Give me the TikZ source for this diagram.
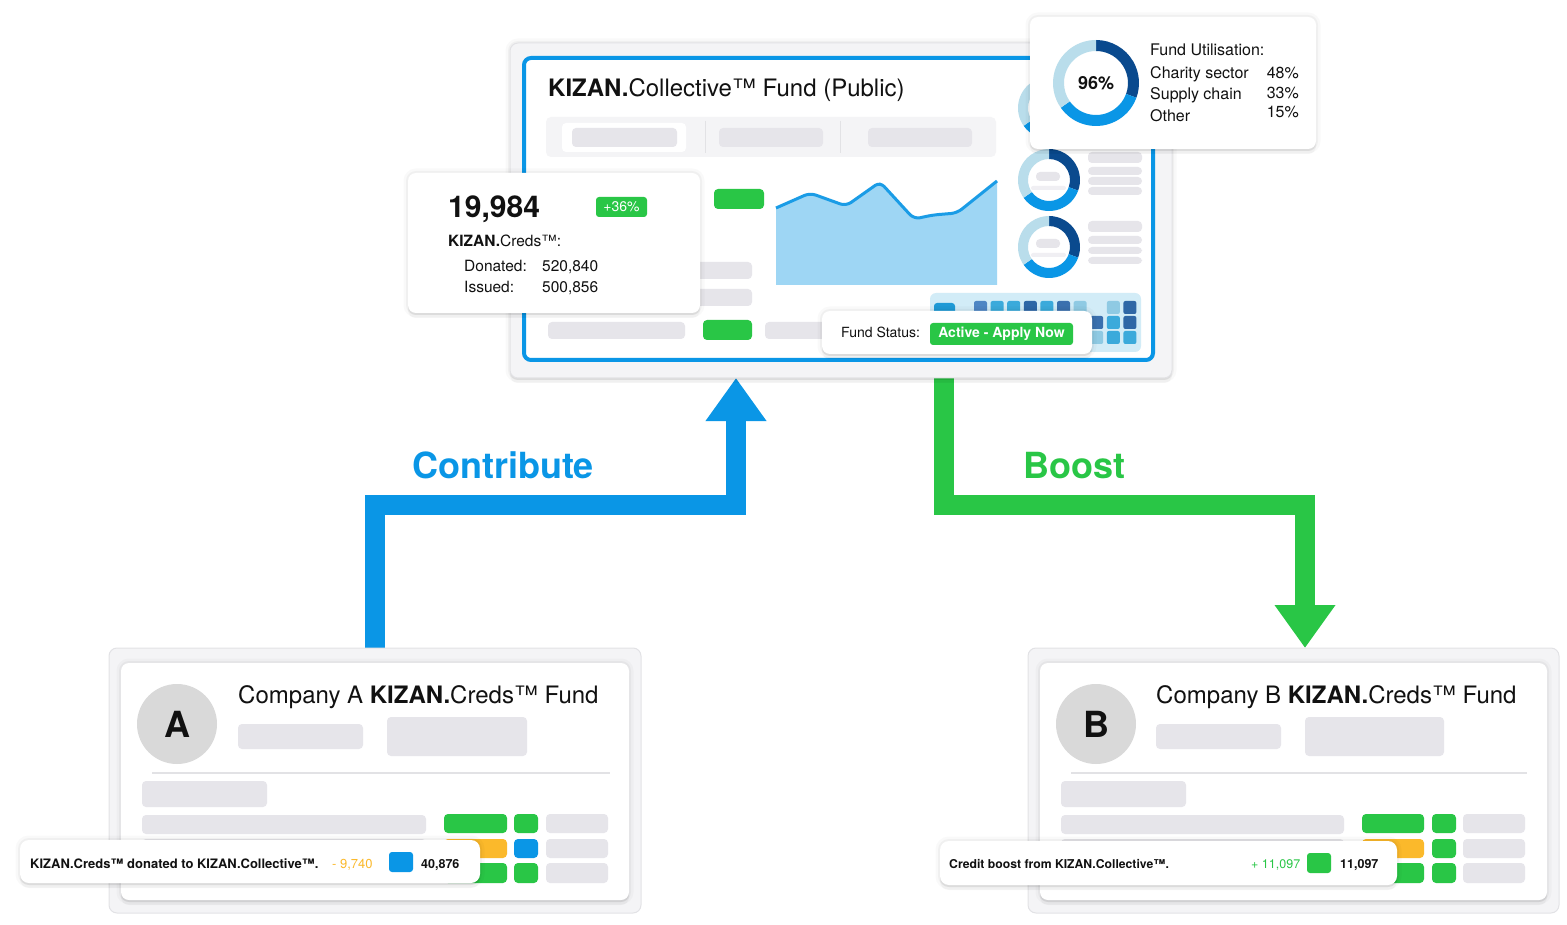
\documentclass[tikz,border=0pt]{standalone}
\usepackage{fontspec}
\setmainfont{TeX Gyre Heros}
\usetikzlibrary{arrows.meta,positioning,calc,backgrounds}
\definecolor{kblue}{HTML}{0A96E6}
\definecolor{kgreen}{HTML}{29C646}
\definecolor{kdark}{HTML}{0A4A8E}
\definecolor{klight}{HTML}{B9DDEB}
\definecolor{korange}{HTML}{FBB92B}
\definecolor{pillgrey}{HTML}{E6E5EA}
\definecolor{panelgrey}{HTML}{F4F4F6}
\definecolor{edgegrey}{HTML}{E2E2E5}
\definecolor{avatargrey}{HTML}{D9D9D9}
\definecolor{chartfill}{HTML}{9ED6F4}
\definecolor{chartline}{HTML}{1A9CE6}
\definecolor{heatbg}{HTML}{D2ECF7}
\definecolor{heatA}{HTML}{4E86C4}
\definecolor{heatB}{HTML}{3BAADB}
\definecolor{heatC}{HTML}{2E67A6}
\definecolor{heatD}{HTML}{8FCAE3}
\definecolor{heatE}{HTML}{3A70AE}
\definecolor{heatsmall}{HTML}{1F9AD6}
\definecolor{ink}{HTML}{111111}

\newcommand{\fsz}[1]{\fontsize{#1}{#1}\selectfont}
\newcommand{\donutseg}[6]{%
  \fill[#6] ($(#1)+(#4:#2)$) arc[start angle=#4, end angle=#5, radius=#2]
    -- ($(#1)+(#5:#3)$) arc[start angle=#5, end angle=#4, radius=#3] -- cycle;}
\newcommand{\donut}[3]{%
  \donutseg{#1}{#2}{#3}{-90}{20}{kdark}%
  \donutseg{#1}{#2}{#3}{20}{145}{kblue}%
  \donutseg{#1}{#2}{#3}{145}{270}{klight}}

\tikzset{
  card/.style={rectangle, rounded corners=8pt, inner sep=0pt, outer sep=0pt, fill=white},
  lift/.style={preaction={draw=black, draw opacity=0.025, line width=9pt},
               preaction={draw=black, draw opacity=0.035, line width=4pt},
               preaction={fill=black, opacity=0.035, transform canvas={yshift=-5pt}},
               preaction={fill=black, opacity=0.05, transform canvas={yshift=-2pt}}},
  tray/.style={card, fill=panelgrey, draw=edgegrey, line width=1pt},
  pill/.style={fill=pillgrey, rounded corners=4pt},
  txt/.style={anchor=base west, inner sep=0pt, text=ink},
  badge/.style={rectangle, rounded corners=3pt, fill=kgreen, text=white, inner sep=0pt},
  flow/.style={line width=20pt, -{Triangle[width=58pt,length=43pt]}},
}

\begin{document}
\begin{tikzpicture}[x=1pt, y=-1pt]
\useasboundingbox (0,0) rectangle (1567,925);

% ---- main fund panel
\node[tray, lift, minimum width=662pt, minimum height=335pt] (panel) at (841,210.5) {};
\node[card, draw=kblue, line width=4pt, rounded corners=7pt, minimum width=629pt, minimum height=302pt] (panelin) at (838.5,209) {};
\node[txt, font=\fsz{24}] (ptitle) at (548,97) {\textbf{KIZAN.}Collective™ Fund (Public)};

% tab bar
\fill[panelgrey, rounded corners=5pt] (546,117) rectangle (996,157);
\fill[white, rounded corners=4pt] (562,123) rectangle (686,152);
\path[pill] (572,128) rectangle (677,147);
\path[pill] (719,128) rectangle (823,147);
\path[pill] (868,128) rectangle (972,147);
\draw[edgegrey] (705,121) -- (705,153);
\draw[edgegrey] (840,121) -- (840,153);

% rows left of the chart
\fill[kgreen, rounded corners=4pt] (714,189) rectangle (764,209);
\path[pill] (620,262) rectangle (752,279);
\path[pill] (620,289) rectangle (752,306);
\path[pill] (548,322) rectangle (685,339);
\fill[kgreen, rounded corners=4pt] (703,320) rectangle (752,340);
\path[pill] (765,322) rectangle (850,339);

% area chart
\fill[chartfill] (776,285) -- (776,208) -- (810,193) -- (846,206) -- (880,182) -- (914,219)
  -- (933,215) -- (957,213) -- (997,181) -- (997,285) -- cycle;
\draw[chartline, line width=3pt, rounded corners=6pt, line join=round]
  (776,208) -- (810,193) -- (846,206) -- (880,182) -- (914,219) -- (933,215) -- (957,213) -- (997,181);

% donuts with their lines
\coordinate (ring1) at (1049,108);
\coordinate (ring2) at (1049,180);
\coordinate (ring3) at (1049,247);
\donut{ring1}{31}{21}
\donut{ring2}{31}{21}
\donut{ring3}{31}{21}
\path[pill] (1036,172) rectangle (1060,181);
\fill[pillgrey!60, rounded corners=2pt] (1031,186) rectangle (1066,190);
\path[pill] (1036,239) rectangle (1060,248);
\fill[pillgrey!60, rounded corners=2pt] (1031,253) rectangle (1066,257);
\path[pill] (1088,152) rectangle (1142,163);
\path[pill] (1088,167) rectangle (1142,175);
\path[pill] (1088,177) rectangle (1142,185);
\path[pill] (1088,187) rectangle (1142,195);
\path[pill] (1088,221) rectangle (1142,232);
\path[pill] (1088,236) rectangle (1142,244);
\path[pill] (1088,247) rectangle (1142,254);
\path[pill] (1088,257) rectangle (1142,264);

% heat map
\fill[heatbg, rounded corners=6pt] (930,293) rectangle (1141,352);
\fill[heatsmall, rounded corners=3pt] (934,303) rectangle (955,316);
\foreach \c [count=\i from 0] in {heatA,heatB,heatB,heatC,heatB,heatE,heatD,none,heatD,heatC}
  \fill[fill=\c, rounded corners=2pt] ({974+16.6*\i},301) rectangle ++(13,13);
\foreach \c [count=\i from 0] in {heatB,heatA,heatC,heatB,heatE,heatB,heatD,heatE,heatB,heatC}
  \fill[fill=\c, rounded corners=2pt] ({974+16.6*\i},316) rectangle ++(13,13);
\foreach \c [count=\i from 0] in {heatD,heatB,heatA,heatB,heatC,heatD,heatB,heatD,heatB,heatB}
  \fill[fill=\c, rounded corners=2pt] ({974+16.6*\i},331) rectangle ++(13,13);

% status popup
\node[card, lift, minimum width=270pt, minimum height=43pt] (status) at (957,332.5) {};
\node[txt, font=\fsz{14}] (statuslbl) at (841,338) {Fund Status:};
\node[badge, font=\fsz{14}\bfseries, minimum width=143pt, minimum height=22pt] (apply) at (1001.5,334) {Active - Apply Now};

% stats popup
\node[card, lift, minimum width=292pt, minimum height=140pt] (stats) at (554,243) {};
\node[txt, font=\fsz{30}\bfseries] (total) at (448,218) {19,984};
\node[badge, font=\fsz{14}, minimum width=51pt, minimum height=20pt] (growth) at (621.5,207) {+36\%};
\node[txt, font=\fsz{15.5}] (credlbl) at (448,247) {\textbf{KIZAN.}Creds™:};
\node[txt, font=\fsz{15.5}] (donlbl) at (464,272) {Donated:};
\node[txt, font=\fsz{15.5}] (donval) at (542,272) {520,840};
\node[txt, font=\fsz{15.5}] (isslbl) at (464,293) {Issued:};
\node[txt, font=\fsz{15.5}] (issval) at (542,293) {500,856};

% utilisation popup
\node[card, lift, minimum width=286pt, minimum height=132pt] (util) at (1173,83) {};
\coordinate (ring0) at (1096,83);
\donut{ring0}{43}{32}
\node[font=\fsz{18}\bfseries, text=ink, inner sep=0pt] (usage) at (ring0) {96\%};
\node[txt, font=\fsz{16}] (utitle) at (1150,56) {Fund Utilisation:};
\node[txt, font=\fsz{16}] (u1) at (1150,79) {Charity sector};
\node[txt, font=\fsz{16}] (u2) at (1150,100) {Supply chain};
\node[txt, font=\fsz{16}] (u3) at (1150,122) {Other};
\node[txt, anchor=base east, font=\fsz{16}] (p1) at (1299,79) {48\%};
\node[txt, anchor=base east, font=\fsz{16}] (p2) at (1299,99) {33\%};
\node[txt, anchor=base east, font=\fsz{16}] (p3) at (1299,118) {15\%};

% ---- company A
\node[tray, minimum width=532pt, minimum height=265pt] (cardA) at (375,780.5) {};
\node[card, lift, minimum width=508pt, minimum height=237pt] (cardAin) at (375,781.5) {};
\node[circle, fill=avatargrey, minimum size=80pt, inner sep=0pt, font=\fsz{36}\bfseries, text=ink] (avatarA) at (177,724) {A};
\node[txt, font=\fsz{24}] (titleA) at (238,703) {Company A \textbf{KIZAN.}Creds™ Fund};
\path[pill] (238,724) rectangle (363,749);
\path[pill] (387,717) rectangle (527,756);
\draw[edgegrey, line width=1.2pt] (152,773) -- (610,773);
\path[pill] (142,781) rectangle (267,807);
\path[pill] (142,815) rectangle (426,834);
\path[pill] (142,839) rectangle (426,858);
\fill[kgreen, rounded corners=4pt] (444,814) rectangle (507,833);
\fill[kgreen, rounded corners=4pt] (514,814) rectangle (538,833);
\path[pill] (546,814) rectangle (608,833);
\fill[korange, rounded corners=4pt] (444,839) rectangle (507,858);
\fill[kblue, rounded corners=4pt] (514,839) rectangle (538,858);
\path[pill] (546,839) rectangle (608,858);
\fill[kgreen, rounded corners=4pt] (444,863) rectangle (507,883);
\fill[kgreen, rounded corners=4pt] (514,863) rectangle (538,883);
\path[pill] (546,863) rectangle (608,883);

\node[card, lift, rounded corners=9pt, minimum width=460pt, minimum height=43pt] (popA) at (250,861.5) {};
\node[txt, font=\fsz{13}\bfseries] (msgA) at (30,868) {KIZAN.Creds™ donated to KIZAN.Collective™.};
\node[txt, font=\fsz{13}, text=korange] (deltaA) at (332,868) {- 9,740};
\fill[kblue, rounded corners=3pt] (389,852) rectangle (413,872);
\node[txt, font=\fsz{12.5}\bfseries] (balA) at (421,868) {40,876};

% ---- company B
\node[tray, minimum width=531pt, minimum height=265pt] (cardB) at (1293.5,780.5) {};
\node[card, lift, minimum width=507pt, minimum height=237pt] (cardBin) at (1293.5,781.5) {};
\node[circle, fill=avatargrey, minimum size=80pt, inner sep=0pt, font=\fsz{36}\bfseries, text=ink] (avatarB) at (1096,724) {B};
\node[txt, font=\fsz{24}] (titleB) at (1156,703) {Company B \textbf{KIZAN.}Creds™ Fund};
\path[pill] (1156,724) rectangle (1281,749);
\path[pill] (1305,717) rectangle (1444,756);
\draw[edgegrey, line width=1.2pt] (1071,773) -- (1527,773);
\path[pill] (1061,781) rectangle (1186,807);
\path[pill] (1061,815) rectangle (1344,834);
\path[pill] (1061,839) rectangle (1344,858);
\fill[kgreen, rounded corners=4pt] (1362,814) rectangle (1424,833);
\fill[kgreen, rounded corners=4pt] (1432,814) rectangle (1456,833);
\path[pill] (1463,814) rectangle (1525,833);
\fill[korange, rounded corners=4pt] (1362,839) rectangle (1424,858);
\fill[kgreen, rounded corners=4pt] (1432,839) rectangle (1456,858);
\path[pill] (1463,839) rectangle (1525,858);
\fill[kgreen, rounded corners=4pt] (1362,863) rectangle (1424,883);
\fill[kgreen, rounded corners=4pt] (1432,863) rectangle (1456,883);
\path[pill] (1463,863) rectangle (1525,883);

\node[card, lift, rounded corners=9pt, minimum width=457pt, minimum height=44pt] (popB) at (1168.5,863) {};
\node[txt, font=\fsz{12.2}\bfseries] (msgB) at (949,868) {Credit boost from KIZAN.Collective™.};
\node[txt, font=\fsz{12.5}, text=kgreen] (deltaB) at (1251,868) {+ 11,097};
\fill[kgreen, rounded corners=3pt] (1307,853) rectangle (1331,873);
\node[txt, font=\fsz{12.5}\bfseries] (balB) at (1340,868) {11,097};

% ---- flows
\begin{scope}[on background layer]
\coordinate (cbend) at (736,505);
\coordinate (bstart) at (943.5,378);
\coordinate (bbend) at (1305,505);
\draw[flow, kblue] (cardA.north) |- (cbend) -- (cbend |- panel.south);
\draw[flow, kgreen] (bstart) |- (bbend) -- (bbend |- cardB.north);
\end{scope}
\node[anchor=base, inner sep=0pt, font=\fsz{36}\bfseries, text=kblue] (contribute) at (503,478) {Contribute};
\node[anchor=base, inner sep=0pt, font=\fsz{36}\bfseries, text=kgreen] (boost) at (1074.5,478) {Boost};
\end{tikzpicture}
\end{document}
